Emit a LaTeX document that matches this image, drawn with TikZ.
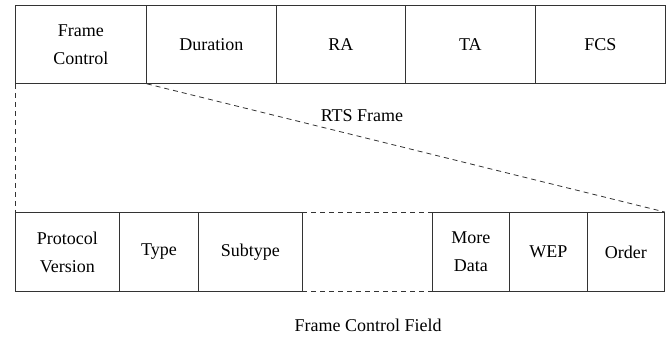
\documentclass[tikz,border=0pt]{standalone}
\usepackage{fontspec}
\setmainfont{Liberation Serif}
\begin{document}
\begin{tikzpicture}[x=1pt,y=-1pt,
  fld/.style={draw=black!80, line width=0.8pt, inner sep=0pt, anchor=north west, align=center,
    font=\fontsize{18}{28}\selectfont},
  blank/.style={inner sep=0pt, anchor=north west},
  dsh/.style={draw=black!80, line width=0.8pt, dash pattern=on 5pt off 4pt},
  lbl/.style={font=\fontsize{18}{28}\selectfont, inner sep=0pt}]
\useasboundingbox (0,0) rectangle (666,339);
% top row
\node[fld, minimum width=131, minimum height=78] (fc) at (15,5) {Frame\\Control};
\node[fld, minimum width=130, minimum height=78] (dur) at (146,5) {Duration};
\node[fld, minimum width=129, minimum height=78] (ra) at (276,5) {RA};
\node[fld, minimum width=130, minimum height=78] (ta) at (405,5) {TA};
\node[fld, minimum width=130, minimum height=78] (fcs) at (535,5) {FCS};
% bottom row
\node[fld, minimum width=104, minimum height=79] (pv) at (15,212) {Protocol\\Version};
\node[fld, minimum width=79, minimum height=79] (type) at (119,212) {Type};
\node[fld, minimum width=104, minimum height=79] (sub) at (198,212) {Subtype};
\node[blank, minimum width=130, minimum height=79] (gap) at (302,212) {};
\node[fld, minimum width=77, minimum height=79] (md) at (432,212) {More\\Data};
\node[fld, minimum width=78, minimum height=79] (wep) at (509,212) {WEP};
\node[fld, minimum width=77, minimum height=79] (ord) at (587,212) {Order};
% dashed connectors
\draw[dsh] (fc.south west) -- (pv.north west);
\draw[dsh] (fc.south east) -- (ord.north east);
\draw[dsh] (gap.north west) -- (gap.north east);
\draw[dsh] (gap.south west) -- (gap.south east);
% labels
\node[lbl] (rts) at (362,116) {RTS Frame};
\node[lbl] (fcf) at (368,325) {Frame Control Field};
\end{tikzpicture}
\end{document}
